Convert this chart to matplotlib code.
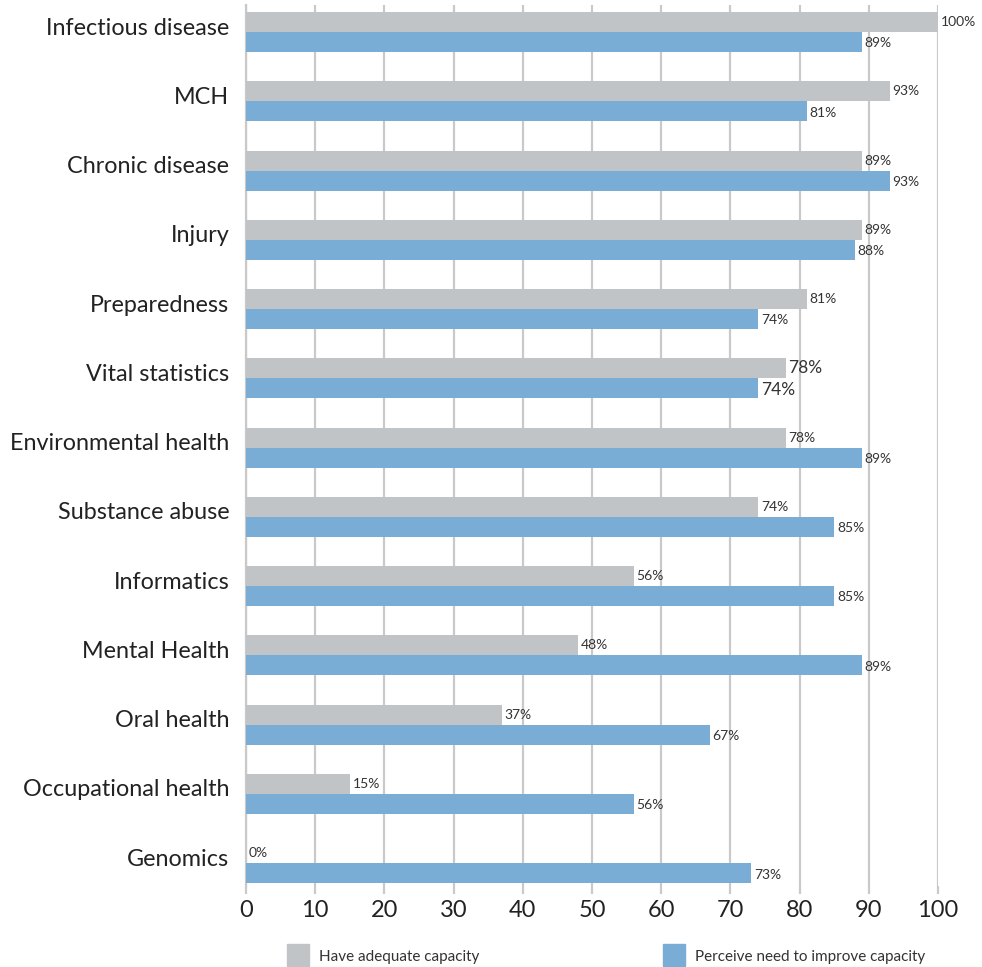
import matplotlib
matplotlib.use("Agg")
import matplotlib.pyplot as plt
import numpy as np

categories = ["Infectious disease", "MCH", "Chronic disease", "Injury", "Preparedness",
              "Vital statistics", "Environmental health", "Substance abuse", "Informatics",
              "Mental Health", "Oral health", "Occupational health", "Genomics"]
adequate = [100, 93, 89, 89, 81, 78, 78, 74, 56, 48, 37, 15, 0]
improve = [89, 81, 93, 88, 74, 74, 89, 85, 85, 89, 67, 56, 73]
xticks = [0, 10, 20, 30, 40, 50, 60, 70, 80, 90, 100]
legend_labels = ["Have adequate capacity", "Perceive need to improve capacity"]

GRAY = "#c1c4c7"
BLUE = "#7aadd5"
GRID = "#c9c9c9"
TEXT = "#333333"

plt.rcParams["font.family"] = ["Lato", "DejaVu Sans"]

fig = plt.figure(figsize=(9.82, 9.67), dpi=100)
ax = fig.add_axes([246 / 982, 1 - 886 / 967, (938 - 246) / 982, (886 - 5) / 967])

y = np.arange(len(categories))
h = 0.289
ax.barh(y - h / 2, adequate, height=h, color=GRAY, zorder=3)
ax.barh(y + h / 2, improve, height=h, color=BLUE, zorder=3)

for i, (a, b) in enumerate(zip(adequate, improve)):
    fs = 12.5 if categories[i] == "Vital statistics" else 10
    ax.annotate(f"{a}%", (a, i - h / 2), xytext=(2, 0), textcoords="offset points",
                va="center", ha="left", fontsize=fs, color=TEXT, zorder=4)
    ax.annotate(f"{b}%", (b, i + h / 2), xytext=(2, -1), textcoords="offset points",
                va="center", ha="left", fontsize=fs, color=TEXT, zorder=4)

ax.set_xlim(0, 100)
ax.set_ylim(12.33, -0.39)
ax.set_xticks(xticks)
ax.set_xticklabels([str(t) for t in xticks], fontsize=17, color="#222222")
# category names sit slightly above the centre of each bar pair
ax.set_yticks(y - 0.085)
ax.set_yticklabels(categories, fontsize=16.8, color="#222222")
ax.tick_params(axis="y", length=0, pad=12)
ax.tick_params(axis="x", length=6, width=1.6, color=GRID, pad=4)
ax.xaxis.grid(True, color=GRID, linewidth=1.6, zorder=0)
for s in ["top", "right", "bottom"]:
    ax.spines[s].set_visible(False)
ax.spines["left"].set_color(GRID)
ax.spines["left"].set_linewidth(1.6)

# legend drawn as boxes with captions along the bottom edge
for x0, color, label in [(287, GRAY, legend_labels[0]), (663, BLUE, legend_labels[1])]:
    fig.patches.append(plt.Rectangle((x0 / 982, 1 - 966 / 967), 22 / 982, 22 / 967,
                                     transform=fig.transFigure, color=color))
    fig.text((x0 + 32) / 982, 1 - 957 / 967, label, fontsize=11, color=TEXT,
             va="center", ha="left")

fig.savefig("out.png", dpi=100)
